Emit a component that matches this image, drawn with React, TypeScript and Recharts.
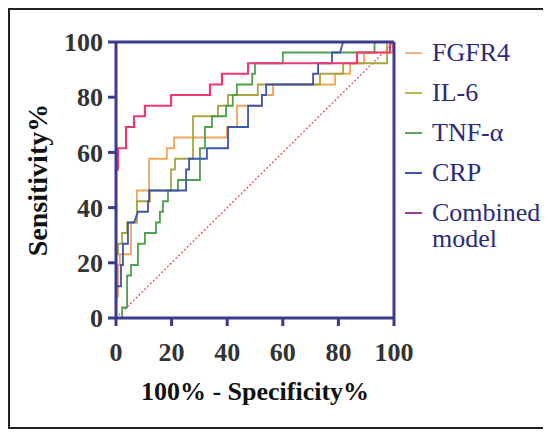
import { LineChart, Line, XAxis, YAxis, ReferenceLine } from "recharts";

const xTicks = [0, 20, 40, 60, 80, 100];
const yTicks = [0, 20, 40, 60, 80, 100];

// ROC points as [100% - specificity, sensitivity]
const fgfr4: [number, number][] = [
  [0, 0], [0, 7.7], [0.7, 7.7], [0.7, 19.2], [1.4, 19.2], [1.4, 23.1], [5.4, 23.1],
  [5.4, 34.6], [7.5, 34.6], [7.5, 46.2], [11.9, 46.2], [11.9, 57.7], [18.3, 57.7],
  [18.3, 61.5], [20.9, 61.5], [20.9, 65.4], [39.9, 65.4], [39.9, 69.2], [43.5, 69.2],
  [43.5, 76.9], [52.5, 76.9], [52.5, 80.8], [56.5, 80.8], [56.5, 84.6], [78.8, 84.6],
  [78.8, 88.5], [84.2, 88.5], [84.2, 92.3], [89.2, 92.3], [89.2, 96.2], [99.6, 96.2],
  [99.6, 100], [100, 100],
];
const il6: [number, number][] = [
  [0, 0], [0, 23.1], [0.7, 23.1], [0.7, 26.9], [2.2, 26.9], [2.2, 30.8], [4, 30.8],
  [4, 34.6], [7.5, 34.6], [7.5, 42.3], [12.2, 42.3], [12.2, 46.2], [19.8, 46.2],
  [19.8, 53.8], [21.2, 53.8], [21.2, 57.7], [27.7, 57.7], [27.7, 73.1], [36.7, 73.1],
  [36.7, 76.9], [40.3, 76.9], [40.3, 80.8], [51, 80.8], [51, 84.6], [73.4, 84.6],
  [73.4, 88.5], [81.7, 88.5], [81.7, 92.3], [97.5, 92.3], [97.5, 100], [100, 100],
];
const tnfa: [number, number][] = [
  [0, 0], [2.2, 0], [2.2, 3.8], [4, 3.8], [4, 15.4], [5.4, 15.4], [5.4, 19.2],
  [7.9, 19.2], [7.9, 26.9], [10.4, 26.9], [10.4, 30.8], [14.4, 30.8], [14.4, 34.6],
  [15.8, 34.6], [15.8, 38.5], [16.9, 38.5], [16.9, 42.3], [18.7, 42.3], [18.7, 46.2],
  [22.3, 46.2], [22.3, 50], [30.2, 50], [30.2, 61.5], [32, 61.5], [32, 69.2],
  [34.5, 69.2], [34.5, 73.1], [39.6, 73.1], [39.6, 76.9], [42, 76.9], [42, 80.8],
  [43.5, 80.8], [43.5, 84.6], [49, 84.6], [49, 88.5], [50, 88.5], [50, 92.3],
  [60, 92.3], [60, 96.2], [93, 96.2], [93, 100], [100, 100],
];
const crp: [number, number][] = [
  [0, 0], [0, 11.5], [1.8, 11.5], [1.8, 19.2], [2.5, 19.2], [2.5, 26.9], [4.3, 26.9],
  [4.3, 34.6], [6.5, 34.6], [7.9, 38.5], [11.5, 38.5], [11.5, 42.3], [11.9, 42.3],
  [11.9, 46.2], [25.2, 46.2], [25.2, 53.8], [26.3, 53.8], [26.3, 57.7], [32.7, 57.7],
  [32.7, 61.5], [40.3, 61.5], [40.3, 69.2], [47.5, 69.2], [47.5, 76.9], [52.5, 76.9],
  [52.5, 80.8], [54, 80.8], [54, 84.6], [70.9, 84.6], [70.9, 88.5], [72.7, 88.5],
  [72.7, 92.3], [77.7, 92.3], [77.7, 96.2], [80.6, 96.2], [81.7, 100], [100, 100],
];
const combined: [number, number][] = [
  [0, 0], [0, 53.8], [0.7, 53.8], [0.7, 61.5], [3.6, 61.5], [3.6, 69.2], [6.5, 69.2],
  [6.5, 73.1], [10.4, 73.1], [10.4, 76.9], [19.8, 76.9], [19.8, 80.8], [33.8, 80.8],
  [33.8, 84.6], [38.1, 84.6], [38.1, 88.5], [47.5, 88.5], [47.5, 92.3], [86.7, 92.3],
  [86.7, 96.2], [98.6, 96.2], [98.6, 100], [100, 100],
];
const reference: [number, number][] = [[0, 0], [100, 100]];

const seriesNames = ["FGFR4", "IL-6", "TNF-α", "CRP", "Combined model"];
const seriesPoints = [fgfr4, il6, tnfa, crp, combined];
const lineColors = ["#f6a35c", "#a9a53c", "#4f9f52", "#3d55b0", "#ee3872"];
const legendColors = ["#f6b585", "#b9b55a", "#5aa860", "#3d55b0", "#9b3fa3"];

const AXIS = "#3b3b8e";
const SERIF = "'Liberation Serif', 'Times New Roman', serif";
const toPoints = (pts: [number, number][]) => pts.map(([x, y]) => ({ x, y }));

const tickStyle = { fill: "#333", fontSize: 26, fontWeight: "bold", fontFamily: SERIF };

export default function App() {
  return (
    <div
      style={{
        position: "relative",
        width: 535,
        height: 417,
        border: "2px solid #222",
        background: "#fff",
        fontFamily: SERIF,
      }}
    >
      <LineChart
        width={535}
        height={417}
        margin={{ top: 32, right: 151, bottom: 69, left: 46 }}
      >
        <XAxis
          type="number"
          dataKey="x"
          domain={[0, 100]}
          ticks={xTicks}
          allowDataOverflow
          height={40}
          axisLine={{ stroke: AXIS, strokeWidth: 3 }}
          tickLine={{ stroke: AXIS, strokeWidth: 3 }}
          tickSize={8}
          tickMargin={17}
          tick={tickStyle}
          label={({ viewBox }: any) => (
            <text
              x={viewBox.x + viewBox.width / 2}
              y={viewBox.y + 82}
              textAnchor="middle"
              fontSize={26}
              fontWeight="bold"
              fontFamily={SERIF}
              fill="#111"
            >
              100% - Specificity%
            </text>
          )}
        />
        <YAxis
          type="number"
          dataKey="y"
          domain={[0, 100]}
          ticks={yTicks}
          allowDataOverflow
          width={60}
          axisLine={{ stroke: AXIS, strokeWidth: 3 }}
          tickLine={{ stroke: AXIS, strokeWidth: 3 }}
          tickSize={8}
          tickMargin={5}
          tick={tickStyle}
          label={() => (
            <text
              x={27}
              y={170}
              transform="rotate(-90, 27, 170)"
              textAnchor="middle"
              dominantBaseline="central"
              fontSize={28}
              fontWeight="bold"
              fontFamily={SERIF}
              fill="#111"
            >
              Sensitivity%
            </text>
          )}
        />
        <Line
          data={toPoints(reference)}
          dataKey="y"
          stroke="#e64545"
          strokeWidth={1.2}
          strokeDasharray="2 2"
          dot={false}
          isAnimationActive={false}
        />
        {seriesPoints.map((pts, i) => (
          <Line
            key={seriesNames[i]}
            name={seriesNames[i]}
            data={toPoints(pts)}
            dataKey="y"
            type="linear"
            stroke={lineColors[i]}
            strokeWidth={i === 4 ? 2.2 : 1.8}
            dot={false}
            isAnimationActive={false}
          />
        ))}
        <ReferenceLine y={100} stroke={AXIS} strokeWidth={3} />
        <ReferenceLine x={100} stroke={AXIS} strokeWidth={3} />
      </LineChart>

      <div style={{ position: "absolute", left: 395, top: 23, width: 135 }}>
        {seriesNames.map((name, i) => (
          <div
            key={name}
            style={{ display: "flex", alignItems: "flex-start", height: 40 }}
          >
            <div
              style={{
                width: 17,
                height: 2,
                marginTop: 19,
                background: legendColors[i],
                flexShrink: 0,
              }}
            />
            <div
              style={{
                marginLeft: 10,
                fontSize: 26,
                lineHeight: "26px",
                marginTop: 7,
                color: "#2a2a7c",
              }}
            >
              {name}
            </div>
          </div>
        ))}
      </div>
    </div>
  );
}
